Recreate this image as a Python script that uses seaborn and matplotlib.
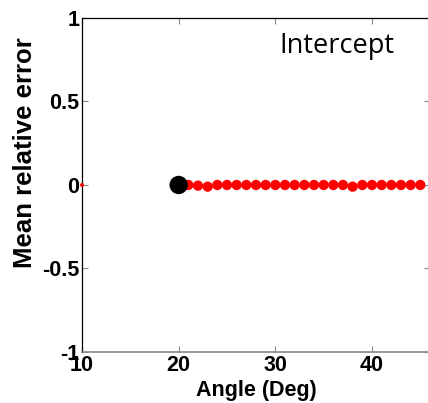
import matplotlib
matplotlib.use("Agg")
import matplotlib.pyplot as plt
import seaborn as sns
import pandas as pd

# Mean relative error of the intercept estimate per angle
angles = [21, 22, 23, 24, 25, 26, 27, 28, 29, 30, 31, 32, 33,
          34, 35, 36, 37, 38, 39, 40, 41, 42, 43, 44, 45]
errors = [0.0, -0.004, -0.01, 0.0, 0.0, 0.0, 0.0, 0.0, 0.0, 0.0, 0.0, 0.0, 0.0,
          0.0, 0.0, 0.0, 0.0, -0.01, 0.0, 0.0, 0.0, 0.0, 0.0, 0.0, 0.0]
ref_angle = [20]
ref_error = [0.0]
edge_angle = [10]
edge_error = [0.0]

x_ticks = [10, 20, 30, 40]
y_ticks = [-1, -0.5, 0, 0.5, 1]
y_tick_labels = ["-1", "-0.5", "0", "0.5", "1"]

sns.set_style("ticks")
plt.rcParams["font.family"] = ["Liberation Sans", "DejaVu Sans"]
plt.rcParams["axes.labelcolor"] = "black"
plt.rcParams["text.color"] = "black"

fig = plt.figure(figsize=(4.28, 4.03), dpi=100)
ax = fig.add_axes([0.1916, 0.1266, 0.813, 0.8288])

df = pd.DataFrame({"angle": angles, "error": errors})
sns.scatterplot(data=df, x="angle", y="error", ax=ax, color="#ff0000",
                s=55, edgecolor="none", zorder=3)
sns.scatterplot(x=edge_angle, y=edge_error, ax=ax, color="#ff0000",
                s=8, marker="o", edgecolor="none", zorder=4, clip_on=False)
sns.scatterplot(x=ref_angle, y=ref_error, ax=ax, color="black",
                s=175, edgecolor="none", zorder=5)

ax.set_xlim(10, 46)
ax.set_ylim(-1, 1)
ax.set_xticks(x_ticks)
ax.set_xticklabels([str(t) for t in x_ticks], fontsize=15.5, fontweight="bold")
ax.set_yticks(y_ticks)
ax.set_yticklabels(y_tick_labels, fontsize=15.5, fontweight="bold")

ax.tick_params(axis="both", direction="in", length=4, width=0.8,
               top=True, right=True, colors="#888888", labelcolor="black")
ax.tick_params(axis="x", pad=2)
ax.tick_params(axis="y", pad=2)

for side in ["left", "top", "right"]:
    ax.spines[side].set_visible(True)
    ax.spines[side].set_color("black")
    ax.spines[side].set_linewidth(0.9)
ax.spines["bottom"].set_color("#888888")
ax.spines["bottom"].set_linewidth(1.2)

ax.set_xlabel("Angle (Deg)", fontsize=15.5, fontweight="bold", labelpad=3,
              color="black")
ax.set_ylabel("Mean relative error", fontsize=18.5, fontweight="bold",
              color="black")
ax.yaxis.set_label_coords(-0.128, 0.596)

ax.text(30.4, 0.79, "Intercept", family=["Open Sans", "DejaVu Sans"],
        fontsize=19.5, ha="left", va="baseline", color="black")

fig.savefig("out.png", dpi=100)
